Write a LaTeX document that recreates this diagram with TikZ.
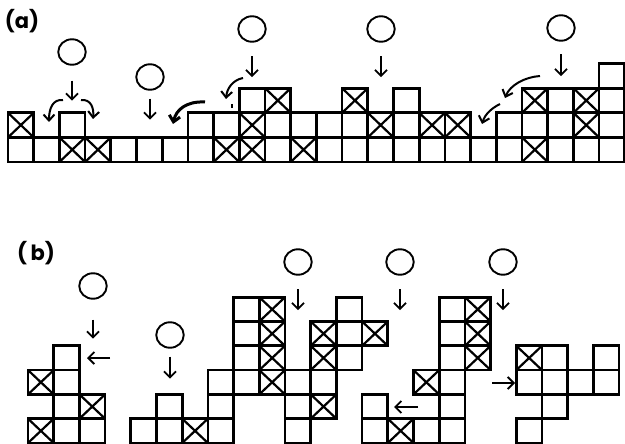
\documentclass[tikz,border=0pt]{standalone}
\usepackage{fontspec}
\setmainfont{Poppins}
\usetikzlibrary{arrows.meta,shapes.geometric}

\begin{document}
\begin{tikzpicture}[x=1pt,y=-1pt,
  cellbox/.style={line width=2.7pt},
  crossline/.style={line width=2.2pt},
  ball/.style={ellipse, draw, line width=1.9pt, minimum width=27.5pt, minimum height=25.5pt, inner sep=0pt},
  drop/.style={-{Straight Barb[length=6pt,width=12pt]}, line width=1.9pt},
  hop/.style={-{Straight Barb[length=6pt,width=11pt]}, line width=2pt},
  panel/.style={font=\fontsize{21}{24}\selectfont\bfseries}
]
\useasboundingbox (0,0) rectangle (625,444);

\node[panel] (la) at (22,21) {(a)};
\node[panel] (lb) at (36,253) {(\,b)};

% panel (a)
\begin{scope}[shift={(8,162)}, x=25.7pt, y=24.6pt]
\foreach \c/\r in {0/0,1/0,2/1,4/0,5/0,6/0,7/0,7/1,8/1,9/2,10/0,10/1,11/1,12/0,12/1,
    13/0,13/1,14/0,15/0,15/1,15/2,16/0,17/0,18/0,19/0,19/1,20/1,21/0,21/1,21/2,
    22/0,23/0,23/1,23/2,23/3}
  \draw[cellbox] (\c,\r) rectangle ++(1,1);
\foreach \c/\r in {0/1,2/0,3/0,8/0,9/0,9/1,10/2,11/0,13/2,14/1,16/1,17/1,20/0,20/2,22/1,22/2}
  {\draw[cellbox] (\c,\r) rectangle ++(1,1);
   \draw[crossline] (\c,\r) -- ++(1,1) (\c+1,\r) -- ++(-1,1);}
\end{scope}

\node[ball] (c1) at (72,52) {};
\node[ball] (c2) at (150,77) {};
\node[ball] (c3) at (252,29) {};
\node[ball] (c4) at (381,29) {};
\node[ball] (c5) at (561,28) {};

\draw[drop] ([yshift=-15pt]c1.south) -- ++(0,20);
\draw[drop] ([yshift=-8pt]c2.south) -- ++(0,21);
\draw[drop] ([yshift=-13.5pt]c3.south) -- ++(0,21);
\draw[drop] ([yshift=-13.5pt]c4.south) -- ++(0,21);
\draw[drop] ([yshift=-12.5pt]c5.south) -- ++(0,22);

\draw[hop] (63,100) .. controls (53,99) and (49,108) .. (49,122);
\draw[hop] (81,100) .. controls (91,99) and (94,108) .. (93,119);
\draw[hop, line width=3pt] (205,102) .. controls (186,101) and (176,110) .. (173,124);
\draw[hop] (243,78) .. controls (233,80) and (227,88) .. (226,99);
\draw[line width=1.5pt] (232,104) -- (232,108);
\draw[hop] (540,76) .. controls (525,77) and (510,85) .. (505,98);
\draw[hop] (500,104) .. controls (492,108) and (485,114) .. (482,124);

% panel (b)
\begin{scope}[shift={(28,443)}, x=25.7pt, y=24.3pt]
\foreach \c/\r in {1/0,1/1,1/2,1/3,2/0,4/0,5/0,5/1,7/0,7/1,7/2,8/2,8/3,8/4,8/5,
    10/0,10/1,10/2,11/2,12/3,12/4,12/5,13/0,13/1,15/0,16/0,16/1,16/2,16/3,16/4,16/5,
    19/0,19/2,20/1,20/2,20/3,21/2,22/2,22/3}
  \draw[cellbox] (\c,\r) rectangle ++(1,1);
\foreach \c/\r in {0/0,0/2,2/1,6/0,9/2,9/3,9/4,9/5,11/1,11/3,11/4,13/4,14/0,15/2,
    17/3,17/4,17/5,19/3}
  {\draw[cellbox] (\c,\r) rectangle ++(1,1);
   \draw[crossline] (\c,\r) -- ++(1,1) (\c+1,\r) -- ++(-1,1);}
\end{scope}

\node[ball] (d1) at (93,286) {};
\node[ball] (d2) at (170,335) {};
\node[ball] (d3) at (298,262) {};
\node[ball] (d4) at (400,262) {};
\node[ball] (d5) at (503,262) {};

\draw[drop] ([yshift=-20pt]d1.south) -- ++(0,19);
\draw[drop] ([yshift=-8pt]d2.south) -- ++(0,22);
\draw[drop] ([yshift=-13.5pt]d3.south) -- ++(0,21);
\draw[drop] ([yshift=-13.5pt]d4.south) -- ++(0,21);
\draw[drop] ([yshift=-13.5pt]d5.south) -- ++(0,21);

\draw[drop] (110,358) -- ++(-23,0);
\draw[drop] (418,407) -- ++(-24,0);
\draw[drop] (492,383) -- ++(23,0);
\end{tikzpicture}
\end{document}
